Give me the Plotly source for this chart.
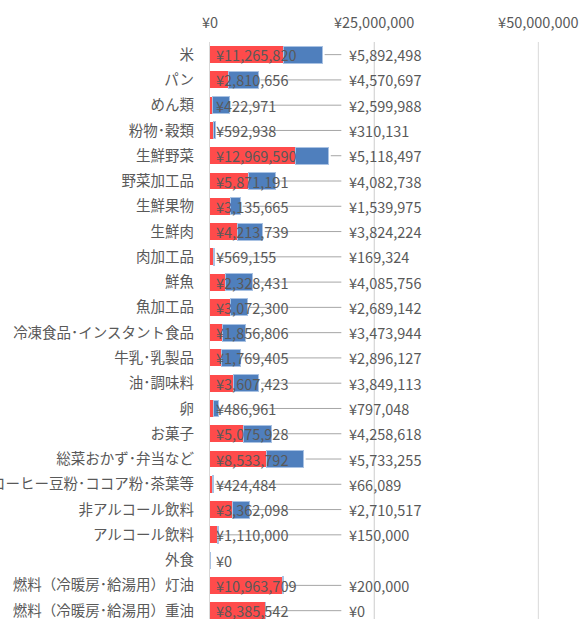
import plotly.graph_objects as go

categories = ["米", "パン", "めん類", "粉物･穀類", "生鮮野菜", "野菜加工品", "生鮮果物", "生鮮肉",
              "肉加工品", "鮮魚", "魚加工品", "冷凍食品･インスタント食品", "牛乳･乳製品", "油･調味料",
              "卵", "お菓子", "総菜おかず･弁当など", "コーヒー豆粉･ココア粉･茶葉等", "非アルコール飲料",
              "アルコール飲料", "外食", "燃料（冷暖房･給湯用）灯油", "燃料（冷暖房･給湯用）重油"]

red_values = [11265820, 2810656, 422971, 592938, 12969590, 5871191, 3135665, 4213739,
              569155, 2328431, 3072300, 1856806, 1769405, 3607423, 486961, 5075928,
              8533792, 424484, 3362098, 1110000, 0, 10963709, 8385542]

blue_values = [5892498, 4570697, 2599988, 310131, 5118497, 4082738, 1539975, 3824224,
               169324, 4085756, 2689142, 3473944, 2896127, 3849113, 797048, 4258618,
               5733255, 66089, 2710517, 150000, None, 200000, 0]

x_ticks = [0, 25000000, 50000000]
x_tick_labels = ["¥0", "¥25,000,000", "¥50,000,000"]

RED = "#FF4B4B"
BLUE = "#4F7FBD"
TEXT = "#595959"
GRID = "#D9D9D9"
LEADER = "#A6A6A6"
FONT = "Noto Sans CJK JP"
FS = 14.5

fig = go.Figure()
fig.add_trace(go.Bar(y=categories, x=red_values, orientation="h", marker_color=RED,
                     marker_line_width=0, showlegend=False, hoverinfo="x+y"))
fig.add_trace(go.Bar(y=categories, x=[v if v is not None else 0 for v in blue_values],
                     orientation="h", marker_color=BLUE,
                     marker_line=dict(width=1, color="#A9C2E3"), showlegend=False, hoverinfo="x+y"))

annotations = []
shapes = []
# explicit gridlines so the one at the range end is visible too
for t in x_ticks[1:]:
    shapes.append(dict(type="line", xref="x", yref="paper", x0=t, x1=t, y0=0, y1=1,
                       line=dict(color=GRID, width=1), layer="below"))

LABEL_X = 20.8e6
LINE_END = 20.0e6
for cat, r, b in zip(categories, red_values, blue_values):
    annotations.append(dict(x=0, y=cat, xref="x", yref="y", text=f"¥{r:,}", showarrow=False,
                            xanchor="left", xshift=4, font=dict(family=FONT, size=FS, color=TEXT)))
    if b is not None:
        total = r + b
        annotations.append(dict(x=LABEL_X, y=cat, xref="x", yref="y", text=f"¥{b:,}", showarrow=False,
                                xanchor="left", font=dict(family=FONT, size=FS, color=TEXT)))
        shapes.append(dict(type="line", xref="x", yref="y", x0=total + 0.3e6, x1=LINE_END,
                           y0=cat, y1=cat, line=dict(color=LEADER, width=1), layer="above"))

fig.update_layout(
    width=579, height=619,
    margin=dict(l=210, r=40, t=42, b=0),
    barmode="stack", bargap=0.33,
    paper_bgcolor="white", plot_bgcolor="white",
    font=dict(family=FONT, size=FS, color=TEXT),
    annotations=annotations, shapes=shapes,
    xaxis=dict(side="top", range=[0, 50100000], tickvals=x_ticks, ticktext=x_tick_labels,
               showgrid=True, gridcolor=GRID, gridwidth=1, zeroline=False, showline=False,
               ticks="", ticklabelstandoff=10, fixedrange=True),
    yaxis=dict(type="category", categoryorder="array", categoryarray=categories,
               range=[22.33, -0.5], showgrid=False, zeroline=False, showline=True,
               linecolor=GRID, linewidth=1, ticks="", ticklabelstandoff=12, automargin=False),
)

fig.write_html("out.html", config={"displayModeBar": False},
               post_script="document.body.style.margin='0';document.body.style.overflow='hidden';")
